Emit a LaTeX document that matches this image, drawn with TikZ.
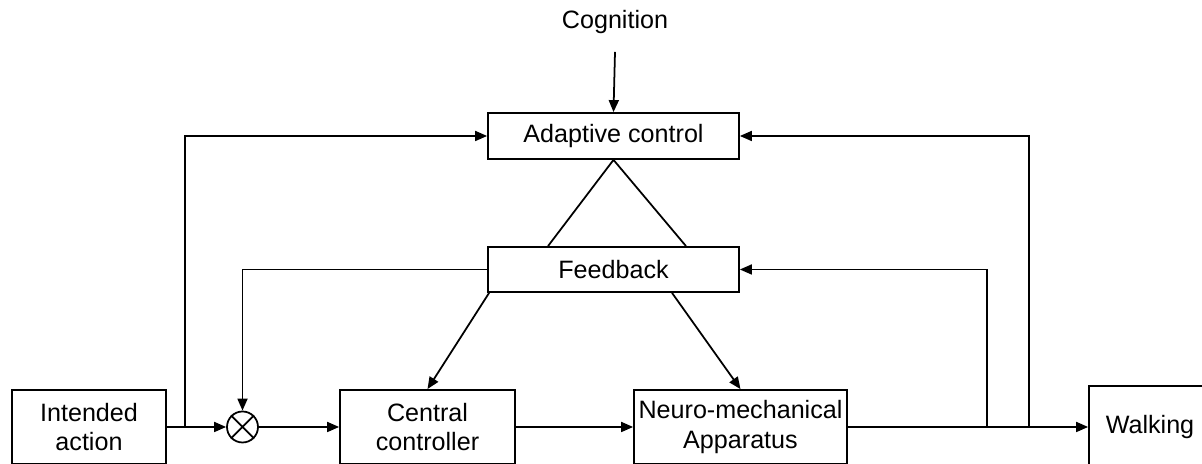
\documentclass[tikz,border=0pt]{standalone}
\usepackage{fontspec}
\setmainfont{Liberation Sans}
\usetikzlibrary{arrows.meta,calc}

\begin{document}
\begin{tikzpicture}[font=\fontsize{14.3}{17}\selectfont, line width=1pt,
  >={Triangle[length=2.4mm,width=2mm]},
  blk/.style={draw, align=center, inner sep=0pt, minimum height=1.48cm}]
\useasboundingbox (0,0) rectangle (24.04,9.28);
\clip (0,0) rectangle (24.04,9.28);

\node[blk, minimum width=3.08cm] (act) at (1.78,0.74) {Intended\\action};
\node[draw, circle, minimum size=0.62cm, inner sep=0pt] (sum) at (4.85,0.74) {};
\draw (sum.north west) -- (sum.south east) (sum.north east) -- (sum.south west);
\node[blk, minimum width=3.5cm] (cc) at (8.55,0.74) {Central\\controller};
\node[blk, minimum width=4.26cm] (nma) at (14.81,0.74) {Neuro-mechanical\\Apparatus};
\node[blk, minimum width=2.44cm, minimum height=1.64cm] (walk) at (23.0,0.74) {Walking};
\node[blk, minimum width=5.02cm, minimum height=0.92cm] (adapt) at (12.27,6.56) {Adaptive control};
\node[blk, minimum width=5.02cm, minimum height=0.9cm] (fb) at (12.27,3.89) {Feedback};
\node (cog) at (12.30,8.84) {Cognition};

\coordinate (cogtail) at (12.30,8.24);
\coordinate (s1) at (3.70,0.74);
\coordinate (s2) at (19.74,0.74);
\coordinate (s3) at (20.58,0.74);

\draw[->] (act) -- (sum);
\draw[->] (sum) -- (cc);
\draw[->] (cc) -- (nma);
\draw[->] (nma) -- (walk);
\draw[->] (cogtail) -- (adapt.north);
\draw[->] (s1) |- (adapt);
\draw[->] (s3) |- (adapt);
\draw[->] (s2) |- (fb);
\draw[->] (fb) -| (sum);
\draw ($(fb.north)+(-1.31,0)$) -- (adapt.south) -- ($(fb.north)+(1.45,0)$);
\draw[->] ($(fb.south west)+(0.04,0)$) -- (cc.north);
\draw[->] ($(fb.south)+(1.17,0)$) -- (nma.north);
\end{tikzpicture}
\end{document}
